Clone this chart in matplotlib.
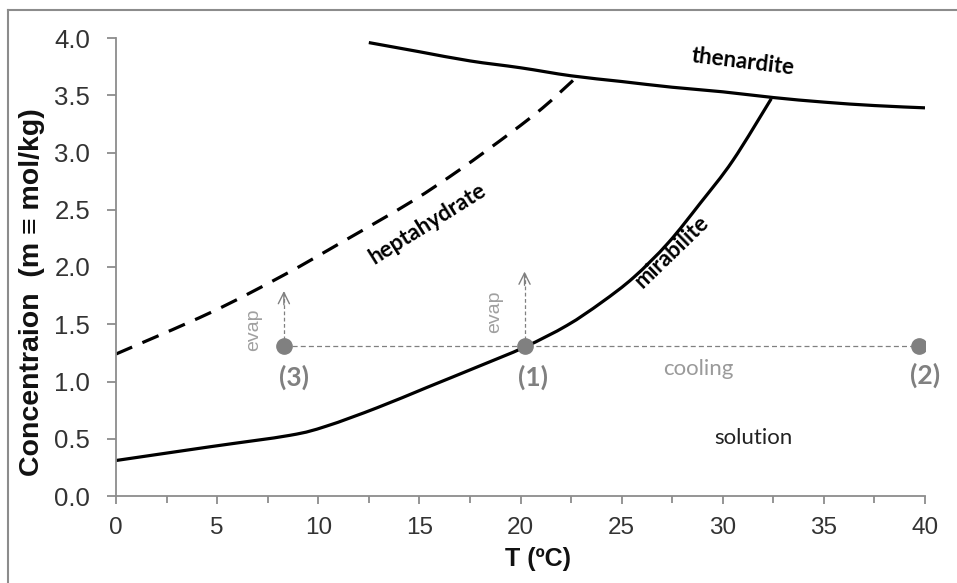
import matplotlib
matplotlib.use("Agg")
import matplotlib.pyplot as plt
from matplotlib.lines import Line2D
from matplotlib.path import Path
from matplotlib.patches import PathPatch

# ---- data ----
then_T = [12.5, 15, 17.5, 20, 22.5, 25, 27.5, 30, 32.5, 35, 37.5, 40]
then_m = [3.96, 3.88, 3.80, 3.74, 3.67, 3.62, 3.57, 3.53, 3.48, 3.44, 3.41, 3.39]

hepta_T = [0, 4.65, 8.3, 11.2, 14.6, 17.0, 19.5, 21.1, 22.6]
hepta_m = [1.24, 1.60, 1.93, 2.22, 2.57, 2.85, 3.17, 3.39, 3.63]

mira_T = [0, 4.65, 8.6, 10.4, 12.9, 15.4, 17.9, 20.2, 22.3, 24.0, 25.6, 27.3, 28.9, 30.5, 32.4]
mira_m = [0.31, 0.43, 0.53, 0.61, 0.77, 0.95, 1.13, 1.30, 1.49, 1.69, 1.91, 2.21, 2.56, 2.93, 3.47]

pts_T = [8.3, 20.2, 39.7]
pts_m = [1.31, 1.31, 1.31]
pts_lab = ["(3)", "(1)", "(2)"]
evap_T = [8.3, 20.2]
evap_top = [1.79, 1.96]

xticks = [0, 5, 10, 15, 20, 25, 30, 35, 40]
yticks = [0.0, 0.5, 1.0, 1.5, 2.0, 2.5, 3.0, 3.5, 4.0]


def smooth_path(xs, ys, tension=1/6):
    """Excel-like smoothed line: Catmull-Rom segments as cubic Bezier curves."""
    n = len(xs)
    verts = [(xs[0], ys[0])]
    codes = [Path.MOVETO]
    for i in range(n - 1):
        x0, y0 = (xs[i - 1], ys[i - 1]) if i > 0 else (xs[i], ys[i])
        x1, y1 = xs[i], ys[i]
        x2, y2 = xs[i + 1], ys[i + 1]
        x3, y3 = (xs[i + 2], ys[i + 2]) if i + 2 < n else (x2, y2)
        c1 = (x1 + (x2 - x0) * tension, y1 + (y2 - y0) * tension)
        c2 = (x2 - (x3 - x1) * tension, y2 - (y3 - y1) * tension)
        verts += [c1, c2, (x2, y2)]
        codes += [Path.CURVE4] * 3
    return Path(verts, codes)


# ---- figure ----
fig = plt.figure(figsize=(9.57, 5.83), dpi=100)
ax = fig.add_axes([116/957, 1-496/583, (925-116)/957, (496-38)/583])

# outer frame lines
fig.add_artist(Line2D([8/957, 8/957], [0, 1-10/583], transform=fig.transFigure, color="#8c8c8c", lw=1.5))
fig.add_artist(Line2D([8/957, 1], [1-10/583, 1-10/583], transform=fig.transFigure, color="#8c8c8c", lw=1.5))

ax.add_patch(PathPatch(smooth_path(then_T, then_m), fill=False, color="black", lw=2.3, capstyle="butt"))
ax.add_patch(PathPatch(smooth_path(hepta_T, hepta_m), fill=False, color="black", lw=2.3,
                       linestyle=(0, (5.5, 3.5)), capstyle="butt"))
ax.add_patch(PathPatch(smooth_path(mira_T, mira_m), fill=False, color="black", lw=2.3, capstyle="butt"))

gray = "#808080"
ax.plot([pts_T[0], pts_T[-1]], [pts_m[0], pts_m[-1]], color=gray, lw=0.9, dashes=(4, 2.5), zorder=2)
for t, b, top in zip(evap_T, [pts_m[0], pts_m[1]], evap_top):
    ax.plot([t, t], [b, top], color=gray, lw=0.9, dashes=(3, 2), zorder=2)
    ax.annotate("", xy=(t, top), xytext=(t, top - 0.12),
                arrowprops=dict(arrowstyle="->,head_length=0.8,head_width=0.4", color=gray,
                                lw=1.0, shrinkA=0, shrinkB=0))
ax.plot(pts_T, pts_m, "o", color=gray, ms=11, zorder=4, mec=gray)

for t, m, lab in zip([8.8, 20.6, 40.0], [1.04, 1.04, 1.05], pts_lab):
    ax.text(t, m, lab, ha="center", va="center", color=gray, fontsize=19,
            fontweight="bold", family="Lato")

ax.text(6.8, 1.45, "evap", rotation=90, ha="center", va="center", color="#a0a0a0", fontsize=14,
        family="Liberation Sans")
ax.text(18.7, 1.61, "evap", rotation=90, ha="center", va="center", color="#a0a0a0", fontsize=14,
        family="Liberation Sans")
ax.text(28.8, 1.11, "cooling", ha="center", va="center", color="#9a9a9a", fontsize=16, family="Lato")
ax.text(31.5, 0.51, "solution", ha="center", va="center", color="#222222", fontsize=16, family="Lato")
ax.text(31.0, 3.79, "thenardite", ha="center", va="center", rotation=-7, rotation_mode="anchor",
        color="black", fontsize=16, fontweight="bold", family="Lato")
ax.text(15.4, 2.38, "heptahydrate", ha="center", va="center", rotation=32, rotation_mode="anchor",
        color="black", fontsize=16, fontweight="bold", family="Lato")
ax.text(27.5, 2.13, "mirabilite", ha="center", va="center", rotation=44, rotation_mode="anchor",
        color="black", fontsize=16, fontweight="bold", family="Lato")

ax.set_xlim(0, 40)
ax.set_ylim(0, 4.0)
ax.set_xticks(xticks)
ax.set_xticklabels([str(v) for v in xticks])
ax.set_xticks([v + 2.5 for v in xticks[:-1]], minor=True)
ax.set_yticks(yticks)
ax.set_yticklabels([f"{v:.1f}" for v in yticks])

for s in ["top", "right"]:
    ax.spines[s].set_visible(False)
for s in ["left", "bottom"]:
    ax.spines[s].set_color("#8c8c8c")
    ax.spines[s].set_linewidth(1.3)
ax.tick_params(axis="both", which="both", direction="out", color="#8c8c8c", width=1.3,
               labelcolor="#333333")
ax.tick_params(axis="x", which="major", length=6, pad=9, labelsize=17.5)
ax.tick_params(axis="x", which="minor", length=5)
ax.tick_params(axis="y", which="major", length=6.5, pad=12, labelsize=18.5)
for lab in ax.get_xticklabels() + ax.get_yticklabels():
    lab.set_family("Liberation Sans")

ax.set_ylabel("Concentraion  (m \u2261 mol/kg)", fontsize=20.5, fontweight="bold",
              family="Liberation Sans", color="#111111")
ax.yaxis.set_label_coords((45-116)/809, (496-292)/458)
ax.set_xlabel("T (\u00baC)", fontsize=18, fontweight="bold", family="Liberation Sans", color="#111111")
ax.xaxis.set_label_coords((538-116)/809, -(547-496)/458)

fig.savefig("out.png", dpi=100)
